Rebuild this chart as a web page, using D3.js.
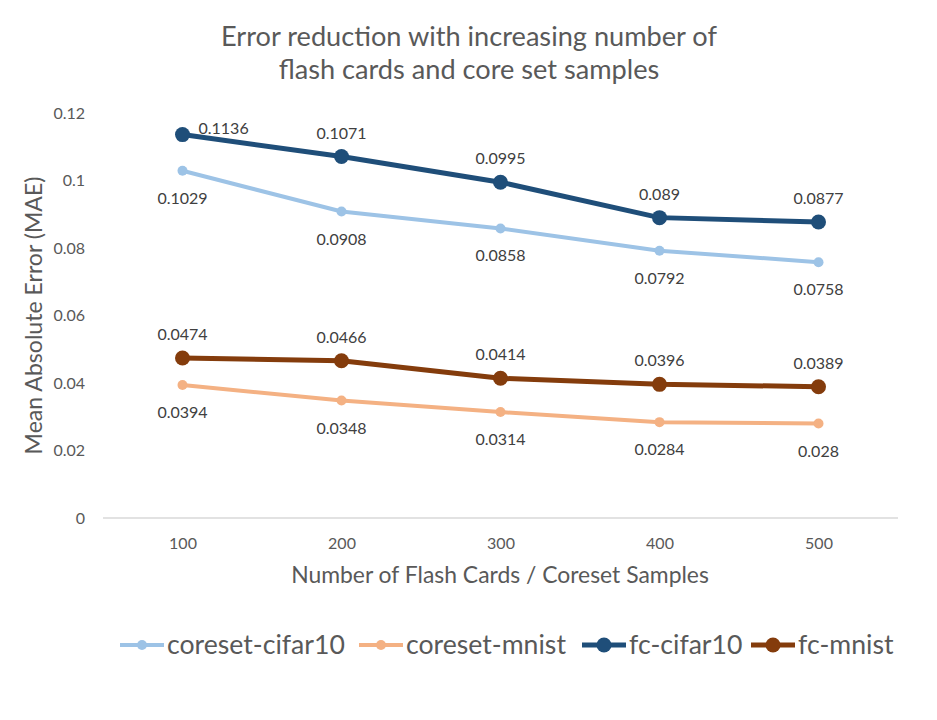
<!DOCTYPE html>
<html>
<head>
<meta charset="utf-8">
<script src="https://cdn.jsdelivr.net/npm/d3@7"></script>
<style>
  body { margin: 0; background: #fff; }
  text { font-family: Lato, "Open Sans", sans-serif; }
</style>
</head>
<body>
<div id="chart"></div>
<script>
// Chart data
const categories = [100, 200, 300, 400, 500];
const seriesNames = ["coreset-cifar10", "coreset-mnist", "fc-cifar10", "fc-mnist"];
const coresetCifar10 = [0.1029, 0.0908, 0.0858, 0.0792, 0.0758];
const coresetMnist = [0.0394, 0.0348, 0.0314, 0.0284, 0.028];
const fcCifar10 = [0.1136, 0.1071, 0.0995, 0.089, 0.0877];
const fcMnist = [0.0474, 0.0466, 0.0414, 0.0396, 0.0389];
const yTicks = [0, 0.02, 0.04, 0.06, 0.08, 0.1, 0.12];

const width = 937, height = 720;
const margin = { top: 113, right: 39, bottom: 202, left: 103 };

const svg = d3.select("#chart")
    .append("svg")
    .attr("width", width)
    .attr("height", height);

svg.append("rect").attr("width", width).attr("height", height).attr("fill", "#fff");

// Size a text so its width matches the width seen in the reference (Calibri is narrower)
function fitWidth(sel, measureNode, target) {
    const base = parseFloat(sel.attr("font-size"));
    const w = measureNode.getComputedTextLength();
    sel.attr("font-size", (base * target / w).toFixed(2) + "px");
}

// Scales
const x = d3.scalePoint()
    .domain(categories)
    .range([margin.left, width - margin.right])
    .padding(0.5);

const y = d3.scaleLinear()
    .domain([0, 0.12])
    .range([height - margin.bottom, margin.top]);

// Series styling
const series = [
    { name: seriesNames[0], values: coresetCifar10, color: "#9DC3E6", lw: 4, r: 5, labelPos: "below" },
    { name: seriesNames[1], values: coresetMnist, color: "#F4B183", lw: 4, r: 5, labelPos: "below" },
    { name: seriesNames[2], values: fcCifar10, color: "#1F4E79", lw: 5, r: 7.5, labelPos: "above" },
    { name: seriesNames[3], values: fcMnist, color: "#843C0C", lw: 5, r: 7.5, labelPos: "above" }
];

// Title
const title = svg.append("text")
    .attr("x", 469)
    .attr("text-anchor", "middle")
    .attr("fill", "#595959")
    .attr("font-size", "24px");
const t1 = title.append("tspan").attr("x", 469).attr("y", 46).text("Error reduction with increasing number of");
title.append("tspan").attr("x", 469).attr("y", 79).text("flash cards and core set samples");
fitWidth(title, t1.node(), 496);

// X axis (baseline only)
const xAxisG = svg.append("g")
    .attr("transform", `translate(0,${y(0)})`)
    .call(d3.axisBottom(x).tickSize(0).tickPadding(20));
xAxisG.select(".domain")
    .attr("d", `M${margin.left},0H${width - margin.right}`)
    .attr("stroke", "#d9d9d9")
    .attr("stroke-width", 1.5);
xAxisG.selectAll("text")
    .attr("fill", "#595959")
    .attr("font-size", "16px")
    .attr("font-family", "Lato, sans-serif");

// Y axis (labels only)
const yAxisG = svg.append("g")
    .attr("transform", `translate(${margin.left},0)`)
    .call(d3.axisLeft(y).tickValues(yTicks).tickFormat(d => String(+d.toFixed(2))).tickSize(0).tickPadding(18));
yAxisG.select(".domain").remove();
yAxisG.selectAll("text")
    .attr("fill", "#595959")
    .attr("font-size", "16px")
    .attr("font-family", "Lato, sans-serif");

// Axis titles
const yTitle = svg.append("text")
    .attr("transform", `translate(42,${(y(0) + y(0.12)) / 2}) rotate(-90)`)
    .attr("text-anchor", "middle")
    .attr("fill", "#595959")
    .attr("font-size", "20px")
    .text("Mean Absolute Error (MAE)");
fitWidth(yTitle, yTitle.node(), 278);

const xTitle = svg.append("text")
    .attr("x", 500)
    .attr("y", 583)
    .attr("text-anchor", "middle")
    .attr("fill", "#595959")
    .attr("font-size", "20px")
    .text("Number of Flash Cards / Coreset Samples");
fitWidth(xTitle, xTitle.node(), 418);

// Lines and markers
const line = d3.line()
    .x((d, i) => x(categories[i]))
    .y(d => y(d));

series.forEach(s => {
    const g = svg.append("g");
    g.append("path")
        .datum(s.values)
        .attr("fill", "none")
        .attr("stroke", s.color)
        .attr("stroke-width", s.lw)
        .attr("stroke-linejoin", "round")
        .attr("d", line);
    g.selectAll("circle")
        .data(s.values)
        .join("circle")
        .attr("cx", (d, i) => x(categories[i]))
        .attr("cy", d => y(d))
        .attr("r", s.r)
        .attr("fill", s.color);
});

// Data labels
series.forEach(s => {
    const isRight = i => s.name === "fc-cifar10" && i === 0;
    svg.append("g").selectAll("text")
        .data(s.values)
        .join("text")
        .attr("x", (d, i) => isRight(i) ? x(categories[i]) + 16 : x(categories[i]))
        .attr("y", (d, i) => {
            if (isRight(i)) return y(d) - 1;
            return s.labelPos === "above" ? y(d) - 18 : y(d) + 33;
        })
        .attr("text-anchor", (d, i) => isRight(i) ? "start" : "middle")
        .attr("fill", "#404040")
        .attr("font-size", "16px")
        .text(d => d);
});

// Legend
const legendX = [120, 359, 582, 751];
const legend = svg.append("g").attr("transform", "translate(0,645)");
let legendFont = 25;
series.forEach((s, i) => {
    const lg = legend.append("g").attr("transform", `translate(${legendX[i]},0)`);
    lg.append("line")
        .attr("x1", 0).attr("x2", 44)
        .attr("stroke", s.color)
        .attr("stroke-width", s.lw);
    lg.append("circle")
        .attr("cx", 22)
        .attr("r", s.r)
        .attr("fill", s.color);
    const txt = lg.append("text")
        .attr("x", 47)
        .attr("y", 9)
        .attr("fill", "#595959")
        .attr("font-size", legendFont + "px")
        .text(s.name);
    if (i === 0) {
        fitWidth(txt, txt.node(), 178);
        legendFont = parseFloat(txt.attr("font-size"));
    }
});
</script>
</body>
</html>
